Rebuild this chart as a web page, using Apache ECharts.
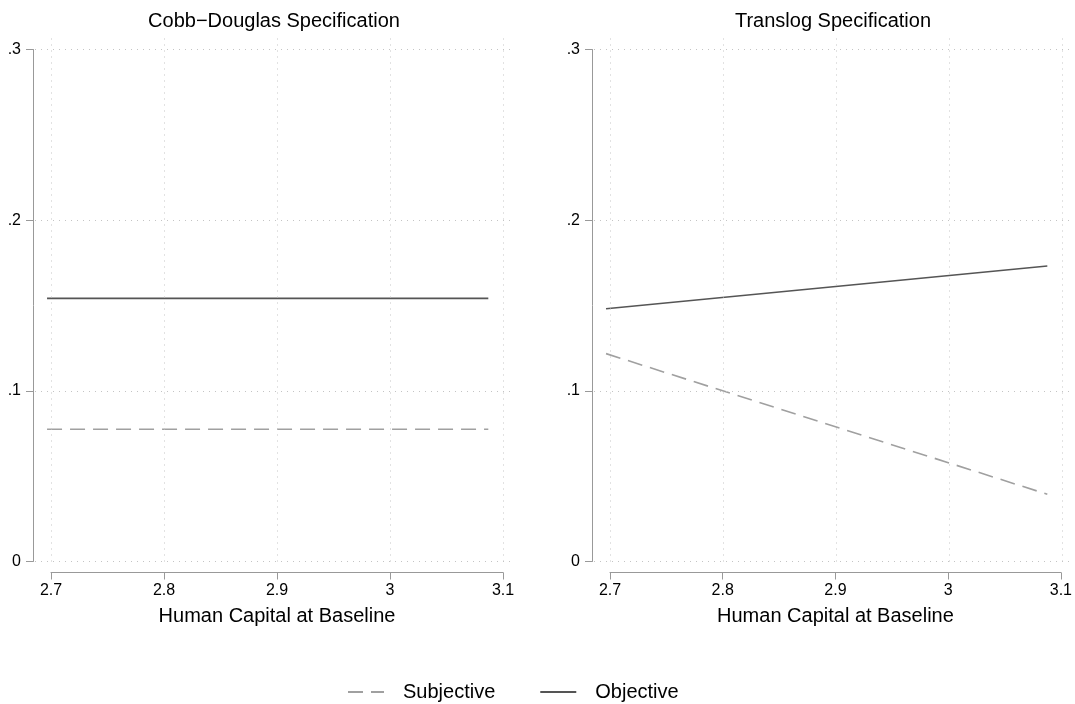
<!DOCTYPE html>
<html>
<head>
<meta charset="utf-8">
<script src="https://cdn.jsdelivr.net/npm/echarts@6/dist/echarts.min.js"></script>
<style>
html, body { margin: 0; padding: 0; background: #fff; }
#chart { width: 1075px; height: 704px; }
</style>
</head>
<body>
<div id="chart"></div>
<script>
// data
var panelTitles = ['Cobb\u2212Douglas Specification', 'Translog Specification'];
var xTitle = 'Human Capital at Baseline';
var xTicks = [2.7, 2.8, 2.9, 3, 3.1];
var xTickLabels = ['2.7', '2.8', '2.9', '3', '3.1'];
var yTicks = [0, 0.1, 0.2, 0.3];
var yTickLabels = ['0', '.1', '.2', '.3'];
var seriesNames = ['Subjective', 'Objective'];
var hcX = [2.6965, 3.087];
var cdSubjective = [0.0775, 0.0775];
var cdObjective = [0.1542, 0.1542];
var tlSubjective = [0.1218, 0.0394];
var tlObjective = [0.1481, 0.1731];

var panels = [
    { sub: cdSubjective, obj: cdObjective },
    { sub: tlSubjective, obj: tlObjective }
];

var font = '"Liberation Sans", Arial, Helvetica, sans-serif';
var axisGray = '#999999';

function pairs(xs, ys) {
    var res = [];
    for (var i = 0; i < xs.length; i++) res.push([xs[i], ys[i]]);
    return res;
}
function lookup(vals, labels, v) {
    for (var i = 0; i < vals.length; i++) {
        if (Math.abs(vals[i] - v) < 1e-6) return labels[i];
    }
    return '';
}

// layout of one panel, second panel is shifted right
var shift = 559;
var axL = 51, axT = 49.5, axW = 452, axH = 512;     // 2.7..3.1 and 0...3
var padL = 16, padR = 10, padT = 12.5;              // plot region beyond the ticks
var pxX = axW / (xTicks[xTicks.length - 1] - xTicks[0]);
var pxY = axH / (yTicks[yTicks.length - 1] - yTicks[0]);

var grid = [], xAxis = [], yAxis = [], series = [], title = [];

for (var p = 0; p < 2; p++) {
    var dx = p * shift;
    // plot region (gridlines + lines)
    grid.push({ left: axL - padL + dx, top: axT - padT, width: axW + padL + padR, height: axH + padT });
    // axes only
    grid.push({ left: axL + dx, top: axT, width: axW, height: axH });

    xAxis.push({
        gridIndex: 2 * p, type: 'value', show: false,
        min: xTicks[0] - padL / pxX, max: xTicks[xTicks.length - 1] + padR / pxX
    });
    yAxis.push({
        gridIndex: 2 * p, type: 'value', show: false,
        min: yTicks[0], max: yTicks[yTicks.length - 1] + padT / pxY
    });
    xAxis.push({
        gridIndex: 2 * p + 1, type: 'value',
        min: 2.7, max: 3.1, interval: 0.1, offset: 11,
        axisLine: { show: true, onZero: false, lineStyle: { color: axisGray, width: 1 } },
        axisTick: { show: true, length: 7, lineStyle: { color: axisGray } },
        axisLabel: {
            color: '#000', fontSize: 16, fontFamily: font, margin: 10,
            formatter: function (v) { return lookup(xTicks, xTickLabels, v); }
        },
        splitLine: { show: false },
        name: xTitle, nameLocation: 'middle', nameGap: 34,
        nameTextStyle: { color: '#000', fontSize: 20, fontFamily: font }
    });
    yAxis.push({
        gridIndex: 2 * p + 1, type: 'value',
        min: 0, max: 0.3, interval: 0.1, offset: 18,
        axisLine: { show: true, onZero: false, lineStyle: { color: axisGray, width: 1 } },
        axisTick: { show: true, length: 7, lineStyle: { color: axisGray } },
        axisLabel: {
            color: '#000', fontSize: 16, fontFamily: font, margin: 12,
            formatter: function (v) { return lookup(yTicks, yTickLabels, v); }
        },
        splitLine: { show: false }
    });

    // dotted grid
    var gl = [];
    xTicks.forEach(function (v) { gl.push({ xAxis: v }); });
    yTicks.forEach(function (v) { gl.push({ yAxis: v }); });
    series.push({
        name: 'grid' + p, type: 'line', xAxisIndex: 2 * p, yAxisIndex: 2 * p,
        data: pairs(hcX, panels[p].obj), symbol: 'none', silent: true,
        lineStyle: { opacity: 0 }, z: 1,
        markLine: {
            silent: true, symbol: ['none', 'none'], label: { show: false },
            lineStyle: { color: '#c4c4c4', width: 1, type: [1, 5] },
            emphasis: { disabled: true },
            data: gl
        }
    });

    series.push({
        name: seriesNames[0], type: 'line', xAxisIndex: 2 * p, yAxisIndex: 2 * p,
        data: pairs(hcX, panels[p].sub), symbol: 'none', z: 3,
        lineStyle: { color: '#a0a0a0', width: 1.6, type: [15, 8] },
        itemStyle: { color: '#a0a0a0' }
    });
    series.push({
        name: seriesNames[1], type: 'line', xAxisIndex: 2 * p, yAxisIndex: 2 * p,
        data: pairs(hcX, panels[p].obj), symbol: 'none', z: 3,
        lineStyle: { color: '#555555', width: 1.6, type: 'solid' },
        itemStyle: { color: '#555555' }
    });

    title.push({
        text: panelTitles[p], left: axL - padL + dx + (axW + padL + padR) / 2, top: 11,
        textAlign: 'center', padding: 0,
        textStyle: { color: '#000', fontSize: 20, fontWeight: 'normal', fontFamily: font }
    });
}

var chart = echarts.init(document.getElementById('chart'));
chart.setOption({
    animation: false,
    backgroundColor: '#fff',
    textStyle: { fontFamily: font },
    title: title,
    legend: {
        data: seriesNames, left: 347, top: 682, padding: 0,
        itemWidth: 36, itemHeight: 14, itemGap: 44,
        itemStyle: { opacity: 0 },
        textStyle: { color: '#000', fontSize: 20, fontFamily: font, padding: [0, 0, 0, 14] }
    },
    grid: grid,
    xAxis: xAxis,
    yAxis: yAxis,
    series: series
});
</script>
</body>
</html>
